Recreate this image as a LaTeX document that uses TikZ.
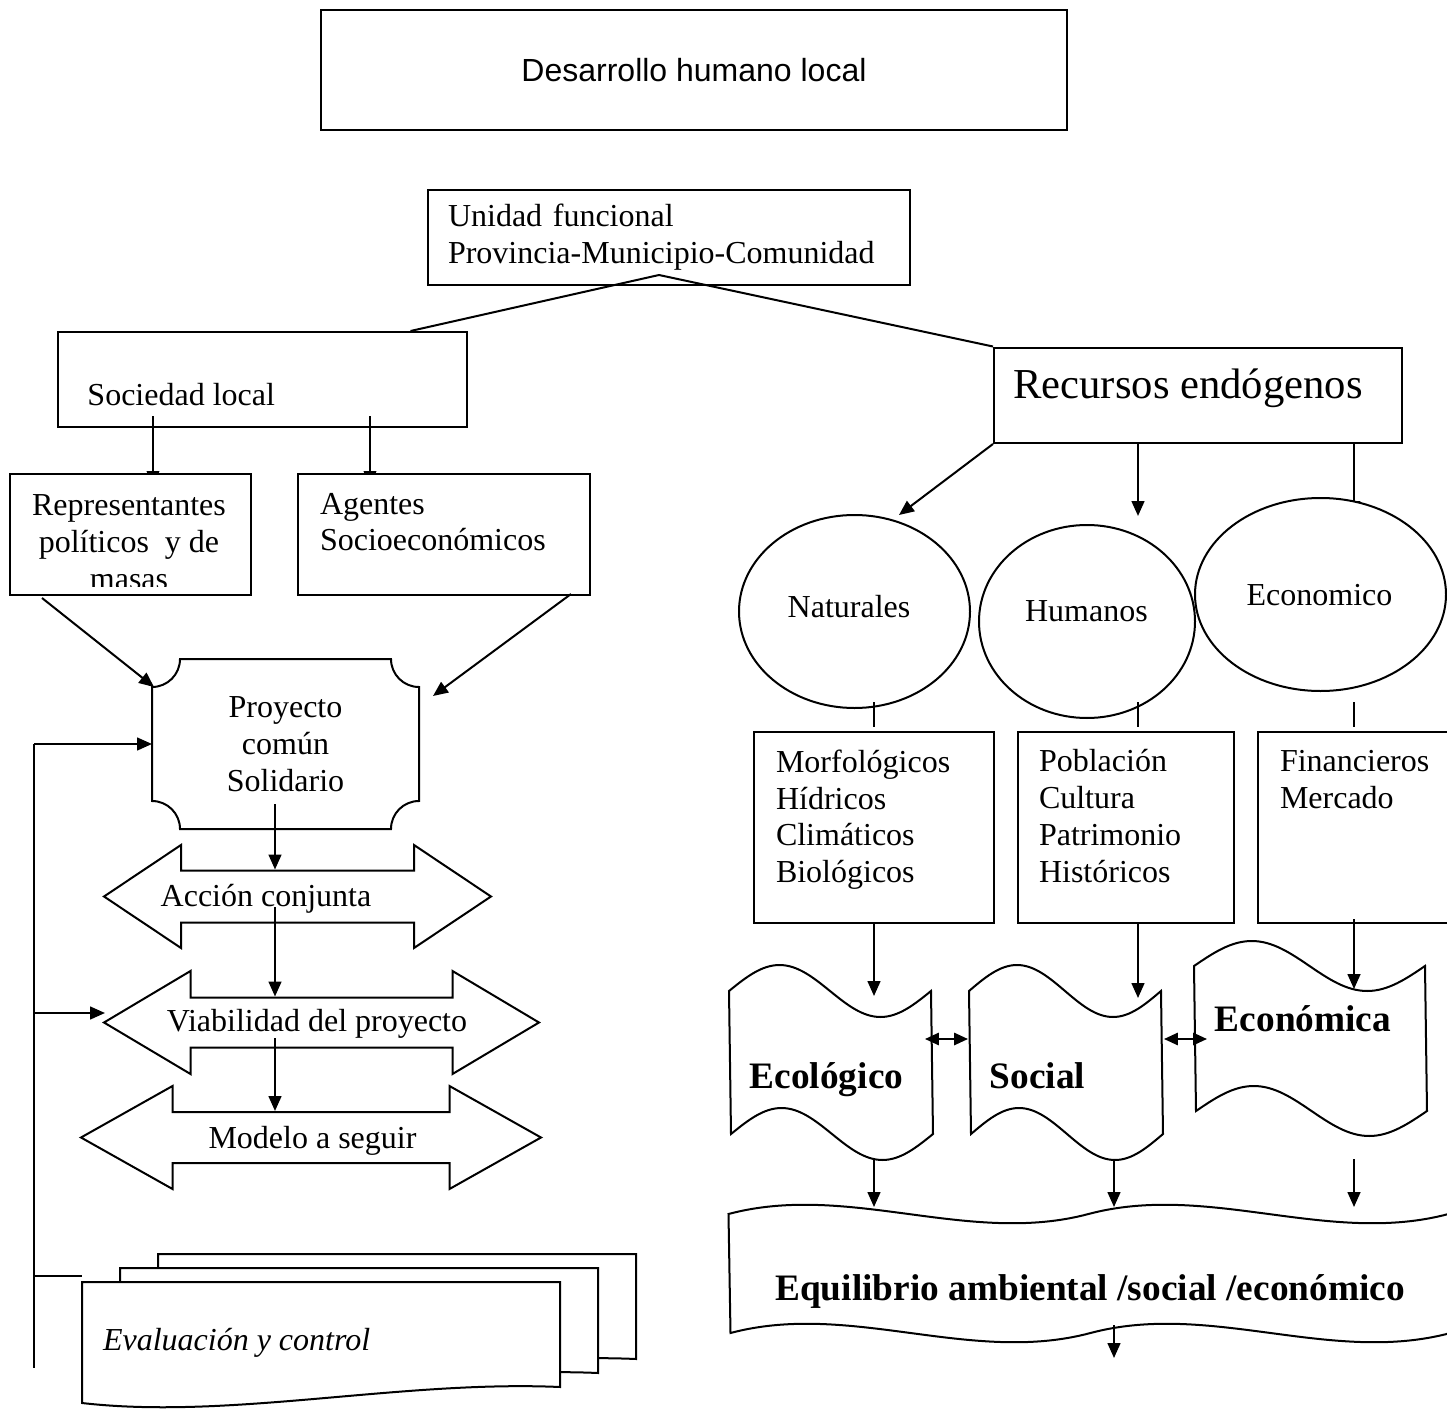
\documentclass[tikz,border=0pt]{standalone}
\usepackage{fontspec}
\setmainfont{Liberation Serif}
\newfontfamily\arialfont{Liberation Sans}
\usepackage{tikz}
\usetikzlibrary{positioning,calc,shapes.geometric,arrows.meta,backgrounds}

\begin{document}
\begin{tikzpicture}[
		x=0.375pt, y=-0.375pt
		,line width=.75pt
		,every node/.append style={inner sep=0pt}
		,box/.style={draw, rectangle}
		,wbox/.style={box, fill=white}
		,ell/.style={ellipse, draw, fill=white}
		,shp/.style={draw, fill=white}
		,txt/.style={font=\fontsize{12}{13.8}\selectfont}
		,big/.style={font=\fontsize{16}{18.4}\selectfont}
		,hd/.style={font=\fontsize{14}{16.1}\selectfont\bfseries}
		,arr/.style={-{Triangle[length=5.6pt,width=4.8pt]}}
		,dbl/.style={{Triangle[length=5.2pt,width=4.6pt]}-{Triangle[length=5.2pt,width=4.6pt]}}
	]
	\useasboundingbox (0,0) rectangle (1447,1409);
	\clip (0,0) rectangle (1447,1409);

	% top boxes
	\node [box, minimum width=279.75pt, minimum height=45pt, font=\arialfont\fontsize{12}{13.8}\selectfont] (des) at (694,70) {Desarrollo humano local};
	\node [box, txt, align=left, text width=165.75pt, inner xsep=7.5pt, minimum height=35.625pt] (uni) at (669,237.5) {Unidad funcional\\Provincia-Municipio-Comunidad};
	\coordinate (apex) at (659,275);

	% left branch
	\node [box, minimum width=153.56pt, minimum height=35.625pt] (soc) at (262.25,379.5) {};
	\node [txt, anchor=base west] (soct) at (86.5,405) {Sociedad local};
	\node [wbox, minimum width=90.375pt, minimum height=45.375pt] (rep) at (130.5,534.5) {};
	\node [wbox, minimum width=109.5pt, minimum height=45.375pt] (agt) at (444,534.5) {};
	\begin{scope}
		\clip (rep.north west) rectangle ($(rep.south east)+(0,-10)$);
		\node [txt, align=center] (rept) at (129,542) {Representantes\\políticos \ y de\\masas};
	\end{scope}
	\node [txt, align=left, anchor=west] (agtt) at (319,522) {Agentes\\Socioeconómicos};

	% right branch
	\node [wbox, minimum width=153pt, minimum height=35.8pt] (rec) at (1198,395.25) {};
	\node [big, anchor=base] (rect) at (1188,398.3) {Recursos endógenos};
	\coordinate (c1) at (874,0);
	\coordinate (c2) at (1138,0);
	\coordinate (c3) at (1354,0);

	\draw (apex) -- ($(soc.north west)+(354,0)$);
	\draw (apex) -- (rec.north west);

	\begin{scope}[on background layer]
		\draw [arr] ($(soc.south west)+(96.5,-12)$) -- ++(0,70);
		\draw [arr] ($(soc.south west)+(313.5,-12)$) -- ++(0,70);
		\draw [arr] (rec.south -| c3) -- ++(0,72);
	\end{scope}

	% proyecto
	\node [txt, align=center, minimum width=99.375pt, minimum height=63pt] (proy) at (285.5,744) {Proyecto\\común\\Solidario};
	\draw ($(proy.north west)+(28,0)$) -- ($(proy.north east)+(-28,0)$)
		.. controls +(0,15.5) and +(-15.5,0) .. ($(proy.north east)+(0,28)$)
		-- ($(proy.south east)+(0,-28)$)
		.. controls +(-15.5,0) and +(0,-15.5) .. ($(proy.south east)+(-28,0)$)
		-- ($(proy.south west)+(28,0)$)
		.. controls +(0,-15.5) and +(15.5,0) .. ($(proy.south west)+(0,-28)$)
		-- ($(proy.north west)+(0,28)$)
		.. controls +(15.5,0) and +(0,15.5) .. ($(proy.north west)+(28,0)$) -- cycle;
	\draw [arr] ($(rep.south west)+(33,2)$) -- ($(proy.north west)+(2,28)$);
	\draw [arr] ($(agt.south east)+(-20,-2)$) -- ($(proy.north east)+(14,37)$);

	% double arrows
	\node [minimum width=144.375pt, minimum height=37.875pt] (acc) at (297.5,896.5) {};
	\node [minimum width=162.375pt, minimum height=37.875pt] (via) at (321.5,1022.5) {};
	\node [minimum width=171.75pt, minimum height=37.875pt] (mode) at (311,1137.5) {};
	\foreach \n/\h/\s in {acc/77/26, via/86.5/25, mode/91.5/25.5}
		\draw [shp] (\n.west) -- ($(\n.north west)+(\h,0)$) -- ($(\n.west)+(\h,-\s)$)
			-- ($(\n.east)+(-\h,-\s)$) -- ($(\n.north east)+(-\h,0)$) -- (\n.east)
			-- ($(\n.south east)+(-\h,0)$) -- ($(\n.east)+(-\h,\s)$)
			-- ($(\n.west)+(\h,\s)$) -- ($(\n.south west)+(\h,0)$) -- cycle;
	\node [txt, anchor=base] (acct) at (266,906.5) {Acción conjunta};
	\node [txt, anchor=base] (viat) at (317,1031.5) {Viabilidad del proyecto};
	\node [txt, anchor=base] (modt) at (312.5,1148) {Modelo a seguir};

	\coordinate (lx) at (275,0);
	\draw [arr] ($(lx |- proy.south)+(0,-25)$) -- ($(lx |- acc.north)+(0,24.5)$);
	\draw [arr] ($(lx |- acc.center)+(0,10.5)$) -- ($(lx |- via.north)+(0,25.5)$);
	\draw [arr] ($(lx |- via.center)+(0,15.5)$) -- ($(lx |- mode.north)+(0,25)$);

	% evaluacion
	\foreach \k in {2,1,0}
		\draw [shp, shift={({38*\k},{-14*\k})}] (82,1282) -- (560,1282) -- (560,1387)
			.. controls (400,1380) and (230,1420) .. (82,1403) -- cycle;
	\node [anchor=base west, font=\fontsize{12}{13.8}\selectfont\itshape] (evt) at (102,1350) {Evaluación y control};

	% feedback
	\coordinate (fb) at (34,744);
	\coordinate (fbend) at (34,1368);
	\draw (fb) -- (fbend);
	\draw [arr] (fb) -- (proy.west);
	\draw [arr] ($(fb |- via.center)+(0,-9.5)$) -- ++(71,0);
	\draw ($(fb)+(0,532)$) -- ++(48,0);

	% recursos
	\node [ell, minimum width=86.625pt, minimum height=72.375pt] (nat) at (854.5,611.5) {};
	\node [ell, minimum width=81pt, minimum height=72.375pt] (hum) at (1087,621.5) {};
	\node [ell, minimum width=94.125pt, minimum height=72.375pt] (eco) at (1320.5,594.5) {};
	\node [txt, anchor=base] (natt) at (849,617.7) {Naturales};
	\node [txt, anchor=base] (humt) at (1086.4,621.7) {Humanos};
	\node [txt, anchor=base] (ecot) at (1319.5,605) {Economico};
	\coordinate (natin) at (899,515);
	\draw [arr] (rec.south west) -- (natin);
	\draw [arr] (rec.south -| c2) -- ++(0,72);

	\node [box, minimum width=90pt, minimum height=71.625pt] (morf) at (874,827.5) {};
	\node [box, minimum width=81pt, minimum height=71.625pt] (pob) at (1126,827.5) {};
	\node [box, minimum width=72pt, minimum height=71.625pt] (fin) at (1354,827.5) {};
	\node [txt, align=left, anchor=west] (morft) at (775,819.6) {Morfológicos\\Hídricos\\Climáticos\\Biológicos};
	\node [txt, align=left, anchor=west] (pobt) at (1038,816.2) {Población\\Cultura\\Patrimonio\\Históricos};
	\node [txt, align=left, anchor=west] (fint) at (1279,779.4) {Financieros\\Mercado};
	\foreach \c in {c1,c2,c3}
		\draw ($(\c |- morf.north)+(0,-29)$) -- ($(\c |- morf.north)+(0,-4)$);

	% dimensiones
	\node [minimum width=75.75pt, minimum height=52.875pt] (ecol) at (831,1062.5) {};
	\node [minimum width=72pt, minimum height=52.875pt] (soci) at (1066,1062.5) {};
	\node [minimum width=86.625pt, minimum height=53.625pt] (econ) at (1310.5,1038.5) {};
	\foreach \n/\q/\a in {ecol/50.5/26, soci/48/26, econ/57.75/25}
		\draw [shp] (\n.north west) sin ++(\q,-\a) cos ++(\q,\a) sin ++(\q,\a) cos ++(\q,-\a)
			-- (\n.south east) sin ++(-\q,\a) cos ++(-\q,-\a) sin ++(-\q,-\a) cos ++(-\q,\a) -- cycle;
	\node [hd, anchor=base] (ecolt) at (826.5,1088.3) {Ecológico};
	\node [hd, anchor=base] (socit) at (1037.5,1088.3) {Social};
	\node [hd, anchor=base] (econt) at (1303,1031.7) {Económica};

	\draw [arr] (c1 |- morf.south) -- ++(0,72);
	\draw [arr] (c2 |- pob.south) -- ++(0,74);
	\draw [arr] ($(c3 |- fin.south)+(0,-5)$) -- ++(0,70);
	\draw [dbl] ($(ecol.east)+(-8,-23.5)$) -- ($(soci.west)+(-1,-23.5)$);
	\draw [dbl] ($(soci.east)+(1,-23.5)$) -- ($(econ.west)+(13,0.5)$);

	% equilibrio
	\node [minimum width=270pt, minimum height=43.875pt] (equi) at (1089.5,1273.5) {};
	\draw [shp] (equi.north west)
		.. controls +(120,-32) and +(-120,32) .. ++(360,0)
		.. controls +(120,-32) and +(-120,32) .. ++(360,0)
		-- (equi.south east)
		.. controls +(-120,32) and +(120,-32) .. ++(-360,0)
		.. controls +(-120,32) and +(120,-32) .. ++(-360,0) -- cycle;
	\node [hd, anchor=base] (eqt) at (1090,1300) {Equilibrio ambiental /social /económico};
	\draw [arr] ($(c1 |- ecol.south)+(0,24)$) -- ++(0,49);
	\draw [arr] ($(soci.south)+(48,26)$) -- ++(0,47);
	\draw [arr] ($(c3 |- econ.south)+(0,48)$) -- ++(0,48);
	\draw [arr] ($(equi.south -| soci.south)+(48,-8)$) -- ++(0,33);
\end{tikzpicture}
\end{document}
